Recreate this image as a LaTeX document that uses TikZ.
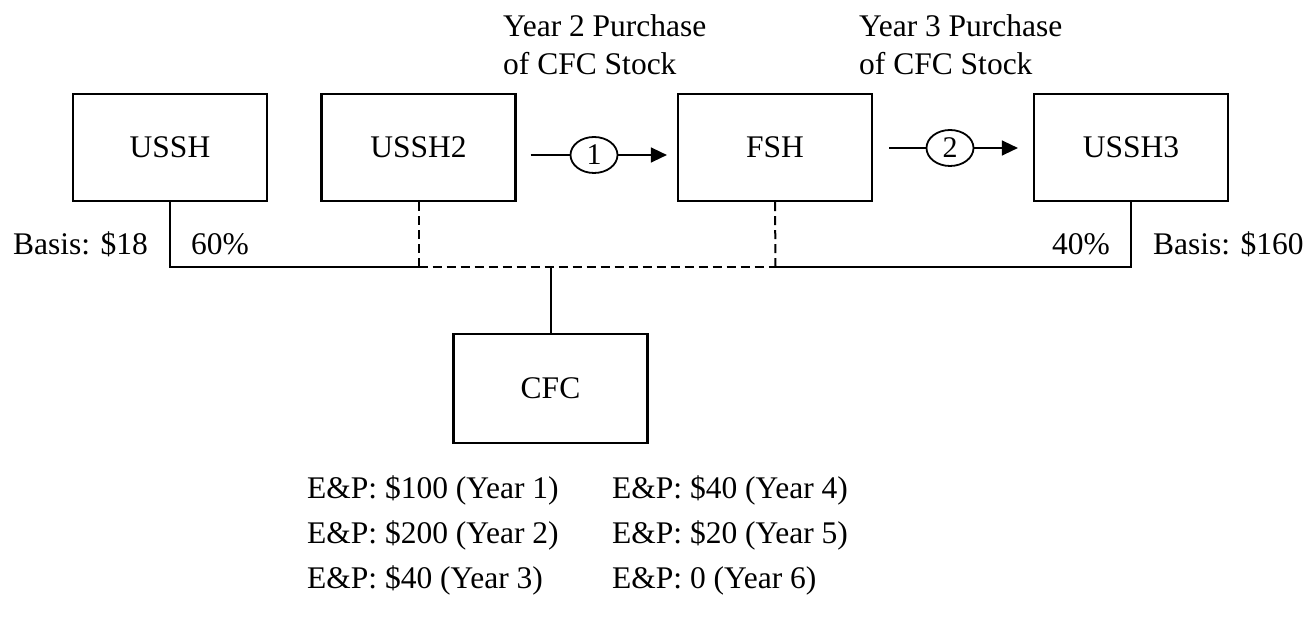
\documentclass[tikz,border=0pt]{standalone}
\usepackage{fontspec}
\setmainfont{Liberation Serif}
\usetikzlibrary{arrows.meta,shapes.geometric}

\tikzset{
  txt/.style={font=\fontsize{31.5}{38}\selectfont, inner sep=0pt},
  entity/.style={draw, line width=2.2pt, minimum width=194pt, minimum height=107pt,
                 inner sep=0pt, font=\fontsize{31.5}{38}\selectfont},
  stepnum/.style={draw, ellipse, line width=1.8pt, minimum width=47pt, minimum height=36pt,
                  inner sep=0pt, font=\fontsize{30}{34}\selectfont},
  link/.style={line width=2pt},
  linkdash/.style={line width=2pt, dash pattern=on 9pt off 5pt},
  flow/.style={line width=1.5pt},
  tip/.style={-{Triangle[length=16pt,width=15pt]}}
}

\begin{document}
\begin{tikzpicture}[x=1pt,y=-1pt]
  \useasboundingbox (0,0) rectangle (1304,617);

  % shareholders and the CFC
  \node[entity] (ussh)  at (170,147.5)  {USSH};
  \node[entity] (ussh2) at (418.5,147.5) {USSH2};
  \node[entity] (fsh)   at (775,147.5)  {FSH};
  \node[entity] (ussh3) at (1131,147.5) {USSH3};
  \node[entity, minimum height=109pt] (cfc) at (550.5,388.5) {CFC};

  % ownership bus
  \coordinate (jl) at (418.5,267);
  \coordinate (jr) at (775.5,267);
  \draw[link] (ussh.south) |- (jl);
  \draw[linkdash] (ussh2.south) -- (jl);
  \draw[linkdash] (jl) -- (jr);
  \draw[linkdash] (fsh.south) -- (jr);
  \draw[link] (jr) -| (ussh3.south);
  \draw[link] (cfc.north) -- (cfc.north |- jl);

  % ownership labels
  \node[txt, anchor=base west] (b18)  at (13,255)   {Basis: \$18};
  \node[txt, anchor=base west] (p60)  at (191,255)  {60\%};
  \node[txt, anchor=base east] (p40)  at (1110,255) {40\%};
  \node[txt, anchor=base west] (b160) at (1153,255) {Basis: \$160};

  % stock purchases
  \node[stepnum] (s1) at (594,155) {1};
  \node[stepnum] (s2) at (950,148) {2};
  \draw[flow, shorten <=14pt] (ussh2.east |- s1) -- (s1.west);
  \draw[flow, tip, shorten >=10pt] (s1.east) -- (fsh.west |- s1);
  \draw[flow, shorten <=16pt] (fsh.east |- s2) -- (s2.west);
  \draw[flow, tip, shorten >=15pt] (s2.east) -- (ussh3.west |- s2);

  \node[txt, anchor=base west] (y2a) at (503,37) {Year 2 Purchase};
  \node[txt, anchor=base west] (y2b) at (503,75) {of CFC Stock};
  \node[txt, anchor=base west] (y3a) at (859,37) {Year 3 Purchase};
  \node[txt, anchor=base west] (y3b) at (859,75) {of CFC Stock};

  % earnings and profits by year
  \node[txt, anchor=base west] (ep1) at (307,498) {E\&P: \$100 (Year 1)};
  \node[txt, anchor=base west] (ep2) at (307,543) {E\&P: \$200 (Year 2)};
  \node[txt, anchor=base west] (ep3) at (307,588) {E\&P: \$40 (Year 3)};
  \node[txt, anchor=base west] (ep4) at (612,498) {E\&P: \$40 (Year 4)};
  \node[txt, anchor=base west] (ep5) at (612,543) {E\&P: \$20 (Year 5)};
  \node[txt, anchor=base west] (ep6) at (612,588) {E\&P: 0 (Year 6)};
\end{tikzpicture}
\end{document}
